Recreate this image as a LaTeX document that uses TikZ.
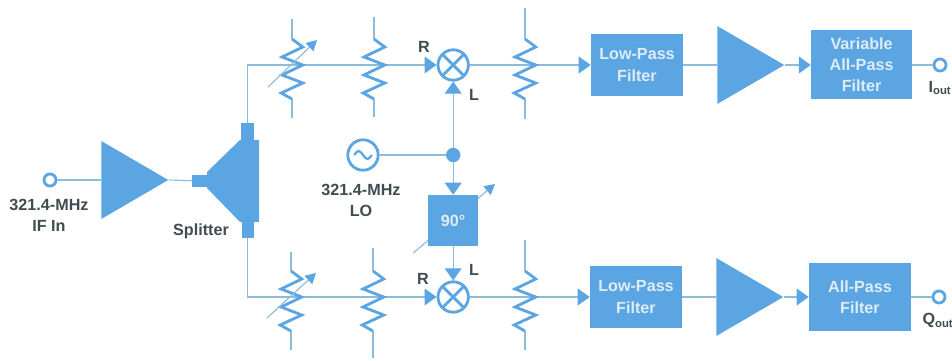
\documentclass[tikz,border=0pt]{standalone}
\usepackage{fontspec}
\setmainfont{Liberation Sans}
\definecolor{sigblue}{HTML}{5BA6E2}
\definecolor{leadblue}{HTML}{8DBBDD}
\definecolor{labelgray}{HTML}{3F4C50}
\definecolor{boxtext}{HTML}{DDECF8}
\usetikzlibrary{shapes.geometric,positioning,arrows.meta,calc}

\begin{document}
\begin{tikzpicture}[
  font=\fontsize{11.5}{15}\selectfont\bfseries,
  lead/.style={draw=leadblue, line width=0.8pt},
  arr/.style={lead, -{Triangle[length=3mm, width=4.2mm, color=sigblue]}},
  zig/.style={draw=sigblue, line width=2pt, line join=miter},
  tune/.style={lead, -{Triangle[length=2.6mm, width=2.8mm, color=sigblue]}},
  filterbox/.style={rectangle, fill=sigblue, text=boxtext, align=center, inner sep=0pt},
  stub/.style={rectangle, fill=sigblue, inner sep=0pt},
  ampl/.style={isosceles triangle, isosceles triangle stretches, shape border rotate=0, fill=sigblue, inner sep=0pt, minimum width=1.95cm, minimum height=1.675cm, anchor=lower side},
  port/.style={circle, draw=sigblue, line width=2pt, fill=white, minimum size=0.3cm, inner sep=0pt},
  ring/.style={circle, draw=sigblue, line width=2pt, fill=white, minimum size=0.76cm, inner sep=0pt},
  mixer/.style={ring, path picture={
    \draw[sigblue, line width=2pt] (path picture bounding box.north west) -- (path picture bounding box.south east);
    \draw[sigblue, line width=2pt] (path picture bounding box.north east) -- (path picture bounding box.south west);}},
  dot/.style={circle, fill=sigblue, minimum size=0.36cm, inner sep=0pt},
  lbl/.style={text=labelgray, align=center, inner sep=0pt}
]
\useasboundingbox (0,0) rectangle (23.8,9);

%% ============ Input and splitter (y = 4.5) ============
\node[port] (ifin) at (1.25,4.5) {};
\node[ampl] (ampin) at (2.525,4.5) {};
\fill[sigblue] (5.175,4.7) -- (6,5.5) -- (6.475,5.5) -- (6.475,3.45) -- (6,3.45) -- (5.175,4.3) -- cycle;
\node[stub, minimum width=0.375cm, minimum height=0.3cm] (splitin)   at (4.99,4.475) {};
\node[stub, minimum width=0.33cm, minimum height=0.43cm] (splitup)   at (6.19,5.71)  {};
\node[stub, minimum width=0.3cm, minimum height=0.4cm]   (splitdown) at (6.19,3.25)  {};

\node[lbl] (ifinlabel)     at (1.225,3.625) {321.4-MHz\\IF In};
\node[lbl] (splitterlabel) at (5.025,3.22)  {Splitter};

\draw[lead] (ifin) -- (ampin.lower side);
\draw[lead] (ampin.apex) -- (splitin);

%% ============ Mixers, LO and phase shifter ============
\coordinate (phasea) at (10.33,2.675);
\coordinate (phaseb) at (12.375,4.4);
\draw[tune] (phasea) -- (phaseb);

\node[mixer] (mixtop) at (11.33,7.375) {};
\node[mixer] (mixbot) at (11.33,1.575) {};
\node[dot]   (lojoin) at (11.33,5.125) {};
\node[ring]  (lo)     at (9.075,5.125) {};
\node[filterbox, minimum width=1.25cm, minimum height=1.275cm] (phase) at (11.33,3.4875) {90°};

\draw[sigblue, line width=1.6pt] ($(lo)+(-0.22,0)$) sin ++(0.11,0.1) cos ++(0.11,-0.1) sin ++(0.11,-0.1) cos ++(0.11,0.1);

\node[lbl] (lolabel) at (9.025,4.0)  {321.4-MHz\\LO};
\node[lbl] (rtop)    at (10.6,7.825) {R};
\node[lbl] (ltop)    at (11.85,6.625){L};
\node[lbl] (rbot)    at (10.575,2.025){R};
\node[lbl] (lbot)    at (11.85,2.25) {L};

\draw[lead] (lo) -- (lojoin);
\draw[arr] (lojoin) -- (mixtop);
\draw[arr] (lojoin) -- (phase);
\draw[arr] (phase) -- (mixbot);

%% ============ Upper and lower paths (y = 7.375 / 1.575) ============
\node[filterbox, minimum width=2.3cm, minimum height=1.55cm]    (lpfi) at (15.925,7.375) {Low-Pass\\Filter};
\node[ampl]                                                     (ampi) at (17.925,7.375) {};
\node[filterbox, minimum width=2.525cm, minimum height=1.725cm] (apfi) at (21.54,7.375)  {Variable\\All-Pass\\Filter};
\node[port]                                                     (iout) at (23.5,7.375)   {};
\node[lbl] (ioutlabel) at (23.5,6.8) {I\textsubscript{out}};

\node[filterbox, minimum width=2.3cm, minimum height=1.55cm]    (lpfq) at (15.9,1.575)   {Low-Pass\\Filter};
\node[ampl]                                                     (ampq) at (17.9,1.575)   {};
\node[filterbox, minimum width=2.55cm, minimum height=1.7cm]    (apfq) at (21.5,1.575)   {All-Pass\\Filter};
\node[port]                                                     (qout) at (23.475,1.575) {};
\node[lbl] (qoutlabel) at (23.45,0.98) {Q\textsubscript{out}};

\draw[arr] (splitup.north) |- (mixtop);
\draw[arr] (mixtop) -- (lpfi);
\draw[lead] (lpfi) -- (ampi.lower side);
\draw[arr] (ampi.apex) -- (apfi);
\draw[lead] (apfi) -- (iout);

\draw[arr] (splitdown.south) |- (mixbot);
\draw[arr] (mixbot) -- (lpfq);
\draw[lead] (lpfq) -- (ampq.lower side);
\draw[arr] (ampq.apex) -- (apfq);
\draw[lead] (apfq) -- (qout);

%% ============ Shunt resistors ============
\foreach \rname/\rx/\ry/\rup/\rdown in {rvi/7.3/7.375/1.15/1.325, rfi/9.35/7.375/1.2/1.3, rmi/13.125/7.375/1.425/1.35,
    rvq/7.275/1.575/1.125/1.325, rfq/9.325/1.575/1.225/1.525, rmq/13.125/1.575/1.425/1.325} {
  \coordinate (\rname) at (\rx,\ry);
  \draw[lead] ($(\rname)+(0,\rup)$) -- ($(\rname)+(0,0.65)$);
  \draw[lead] ($(\rname)+(0,-0.85)$) -- ($(\rname)+(0,-\rdown)$);
  \draw[zig] ($(\rname)+(0,0.65)$) -- ++(0.27,-0.2) -- ++(-0.52,-0.25) -- ++(0.52,-0.2) -- ++(-0.52,-0.25)
    -- ++(0.52,-0.2) -- ++(-0.54,-0.25) -- ++(0.27,-0.15);
}
\draw[tune] ($(rvi)+(-0.6,-0.55)$) -- ($(rvi)+(0.625,0.625)$);
\draw[tune] ($(rvq)+(-0.6,-0.525)$) -- ($(rvq)+(0.625,0.6)$);
\end{tikzpicture}
\end{document}
